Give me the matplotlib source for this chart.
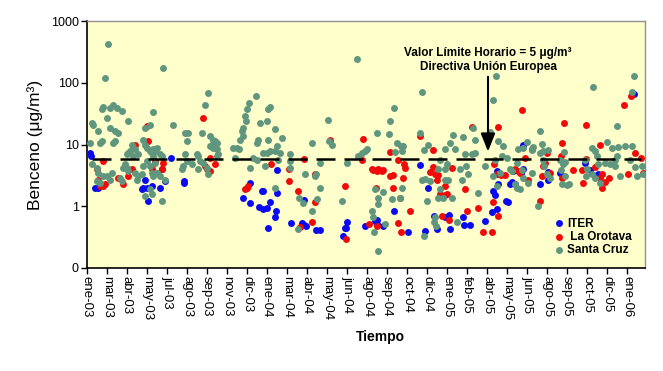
import matplotlib
matplotlib.use('Agg')
import matplotlib.pyplot as plt
from matplotlib.ticker import NullLocator

# month labels on the category axis
months = ['ene-03', 'mar-03', 'abr-03', 'may-03', 'jul-03', 'ago-03', 'sep-03',
          'nov-03', 'dic-03', 'ene-04', 'mar-04', 'abr-04', 'may-04', 'jun-04',
          'ago-04', 'sep-04', 'oct-04', 'dic-04', 'ene-05', 'feb-05', 'abr-05',
          'may-05', 'jun-05', 'ago-05', 'sep-05', 'oct-05', 'dic-05', 'ene-06']

limit = 5.8  # dashed reference line (ug/m3)

# ITER
iter_x = [0.15, 0.2, 0.4, 0.57, 2.73, 2.82, 2.9, 2.98, 3.07, 3.23, 3.65, 3.77, 3.9, 4.2, 4.85, 4.87,
          7.82, 8.15, 8.15, 8.62, 8.73, 8.82, 8.82, 8.98, 9.07, 9.15, 9.4, 9.45, 9.48, 9.48, 10.18,
          10.73, 10.85, 10.85, 10.95, 11.45, 11.65, 12.78, 12.9, 12.95, 13.0, 13.9, 14.4, 14.48,
          14.48, 14.82, 15.37, 16.07, 16.65, 16.9, 17.07, 17.37, 17.48, 17.9, 18.1, 18.15, 18.82,
          18.87, 19.15, 19.9, 20.23, 20.32, 20.4, 20.48, 20.48, 20.53, 20.93, 21.03, 21.15, 21.27,
          21.32, 21.4, 21.7, 21.82, 21.82, 22.65, 23.07, 23.07, 23.65, 24.9, 25.15, 25.57, 27.37]
iter_y = [7.3, 6.5, 2.0, 2.0, 1.9, 2.0, 2.7, 2.0, 1.22, 2.1, 2.0, 4.0, 2.6, 6.1, 2.6, 2.4,
          1.38, 2.4, 1.15, 0.96, 1.77, 1.75, 0.9, 0.92, 0.45, 1.17, 0.66, 0.84, 1.66, 3.9, 0.54,
          0.54, 0.5, 1.27, 0.48, 0.41, 0.41, 0.33, 0.45, 0.45, 0.55, 0.47, 0.57, 0.52,
          0.6, 0.48, 0.84, 0.39, 4.6, 0.4, 2.0, 0.7, 0.43, 0.66, 0.72, 0.43, 0.66,
          0.5, 0.5, 0.57, 0.8, 1.77, 1.5, 0.9, 3.7, 2.3, 1.2, 1.17, 2.3, 2.5,
          3.7, 2.3, 3.5, 10, 4.0, 2.3, 3.6, 2.7, 3.5, 5.0, 3.9, 3.3, 66]

# La Orotava
oro_x = [0.48, 0.57, 0.65, 0.82, 0.82, 0.9, 1.57, 1.82, 2.07, 2.23, 2.4, 2.98, 3.07, 3.23, 3.4,
         3.73, 3.82, 5.82, 5.9, 5.98, 6.15, 6.15, 6.4,
         9.18, 10.12, 10.12, 10.57, 10.85, 11.4, 11.4, 11.23, 10.65, 12.15, 12.9, 12.95, 13.82,
         13.73, 14.23, 14.48, 14.45, 14.48, 14.12, 7.9, 8.07, 7.98,
         15.15, 15.57, 15.87, 15.9, 15.82, 14.57, 14.73, 15.15, 15.32, 15.32, 15.65, 16.15,
         15.53, 15.7, 16.65, 17.32, 17.32, 17.15, 17.4, 17.57, 17.48, 17.9, 17.65, 17.9, 17.98,
         18.27, 17.73, 18.1, 18.9, 18.98, 19.53, 19.23, 20.57, 19.82, 20.23, 20.37, 20.48,
         20.7, 20.9, 21.4, 21.57, 20.53, 20.32, 14.3, 14.8,
         21.73, 23.85, 24.95, 26.83, 27.2, 23.73, 25.65, 27.4, 27.7, 22.98, 22.9, 22.82, 22.73,
         22.65, 21.9, 22.07, 21.65, 23.73, 25.4, 25.65, 25.73, 25.9, 25.77, 27.07, 27.82, 24.73,
         22.25, 24.3, 24.8, 24.95, 23.15, 26.1, 23.7]
oro_y = [4.0, 2.7, 2.1, 5.4, 2.1, 2.3, 2.9, 2.3, 3.1, 4.0, 10, 20, 11.3, 4.0, 5.4,
         4.0, 5.1, 27, 4.5, 4.0, 3.7, 6.1, 4.8,
         4.8, 4.0, 2.6, 1.77, 5.9, 3.3, 1.17, 0.55, 0.46, 12, 2.1, 0.3, 12.2,
         5.7, 4.0, 3.7, 2.0, 0.48, 0.52, 1.9, 2.1, 2.0,
         7.5, 5.7, 4.8, 4.2, 2.9, 4.0, 3.7, 3.1, 3.2, 1.95, 1.36, 0.83,
         0.54, 0.39, 13.5, 8, 4.4, 3.6, 3.3, 3.2, 2.7, 2.1, 1.6, 1.5, 1.55,
         4.2, 0.7, 0.6, 1.9, 0.84, 0.92, 19, 19, 0.39, 0.39, 4.8, 3.3,
         3.2, 3.2, 4.0, 3.7, 0.69, 1.17, 3.8, 3.8,
         36, 22.5, 20.5, 44, 62, 10.5, 10, 7.2, 6.1, 7.4, 5.1, 4.5, 3.1,
         1.22, 6.1, 2.7, 3.5, 2.9, 4.3, 2.9, 2.0, 2.5, 3.3, 3.3, 3.5, 3.8,
         8.6, 3.8, 2.4, 5.9, 3.5, 2.9, 6.6]

# Santa Cruz
sc_x = [0.15, 0.23, 0.32, 0.57, 0.73, 0.82, 1.15, 1.32, 1.48, 1.73, 0.98, 1.15, 1.4, 1.57, 0.65,
        0.73, 1.32, 1.4, 2.07, 3.32, 3.15, 2.9, 4.32, 4.9, 5.07, 4.98, 5.73, 5.9, 6.07, 6.15,
        6.32, 6.4, 6.48, 6.23, 6.15, 6.32, 6.48, 6.57, 6.48, 4.9, 4.98, 4.82, 4.73, 5.23, 5.48,
        5.57, 5.65, 5.82, 5.57, 5.98, 6.07, 0.23, 0.48, 0.57, 0.82, 0.98, 0.5, 0.65, 1.15, 1.23,
        1.65, 1.73, 1.82, 1.9, 1.98, 2.07, 2.23, 2.4, 2.32, 2.15, 2.57, 2.82, 2.9, 2.98, 3.15,
        3.23, 3.32, 3.4, 3.48, 3.65, 3.73, 3.32, 3.4, 2.82, 2.98, 3.15, 3.23, 3.32, 3.48, 3.65,
        3.9, 2.4, 2.48, 2.57, 2.73, 2.07, 1.98, 2.9, 3.23, 3.73, 3.15, 1.05, 0.9, 3.8, 7.32,
        8.43, 8.1, 7.98, 7.9, 7.95, 7.82, 7.73, 7.78, 7.65, 7.48, 7.62, 7.4, 8.15, 8.32, 8.48,
        8.65, 8.98, 9.07, 9.15, 9.4, 9.07, 8.57, 8.48, 9.48, 9.73, 8.82, 8.98, 9.15, 9.4, 9.65,
        9.57, 8.9, 10.15, 10.15, 10.15, 11.23, 10.9, 11.45, 11.4, 11.65, 11.65, 12.07, 12.12,
        12.23, 9.4, 10.62, 10.78, 11.48, 11.23, 10.57, 12.77, 13.0, 13.57, 13.73, 13.9, 13.98,
        14.48, 14.23, 14.32, 14.35, 14.57, 14.57, 14.57, 13.5,
        16.73, 20.32, 15.37, 15.15, 15.1, 16.65, 15.48, 15.82, 15.73, 15.4, 16.87, 17.03, 18.32,
        18.82, 19.32, 18.15, 18.4, 17.9, 19.4, 20.15, 20.57, 20.82, 19.4, 19.23, 18.9, 17.98,
        17.65, 17.57, 17.9, 16.73, 16.9, 17.15, 17.9, 18.07, 17.65, 17.57, 17.82, 18.23, 18.65,
        18.93, 19.07, 18.73, 19.9, 19.57, 20.32, 20.48, 20.65, 21.23, 21.15, 21.4, 21.65, 21.48,
        14.4, 14.9, 15.27, 15.73, 15.65, 16.98, 17.4, 17.37, 17.43, 16.87, 18.48, 20.73, 20.98,
        20.4, 20.45, 15.7, 14.8,
        27.35, 25.28, 27.23, 26.52, 22.65, 21.98, 22.73, 21.57, 21.82, 22.32, 22.82, 23.07,
        23.85, 23.65, 23.9, 23.82, 23.7, 23.9, 23.73, 23.98, 24.1, 24.9, 24.98, 24.93, 25.27,
        25.4, 25.48, 25.98, 26.27, 26.57, 26.9, 27.23, 25.23, 25.4, 25.65, 25.57, 25.9, 26.15,
        26.4, 26.65, 26.4, 26.48, 27.15, 27.4, 27.48, 27.73, 27.82, 21.48, 21.73, 21.82, 22.07,
        22.23, 22.65, 22.82, 22.87, 22.98, 22.57, 23.15, 22.23]
sc_y = [10.6, 22, 21, 16.4, 37, 41, 39, 43, 39, 35, 27, 18.6, 16.4, 15.4, 10.6,
        11.3, 10.6, 11.3, 24, 33, 21, 18.6, 21, 15.4, 15.4, 11.3, 15.4, 44, 68, 13.6,
        12, 11.3, 10.6, 10, 9.4, 8.8, 8.3, 6.9, 6.5, 6.9, 5.4, 4.5, 4.0, 4.8, 6.9,
        6.5, 5.4, 5.1, 4.0, 4.2, 3.3, 4.8, 4.2, 3.5, 3.1, 3.1, 2.6, 2.4, 2.7, 3.5,
        2.9, 2.6, 4.2, 4.8, 6.9, 7.3, 10, 8.3, 6.5, 7.8, 6.9, 12, 10, 8.8, 7.8,
        7.3, 8.3, 7.8, 8.8, 6.9, 6.5, 6.5, 5.1, 4.5, 5.4, 4.5, 3.5, 3.1, 3.5, 3.1,
        2.7, 3.5, 2.7, 3.1, 3.3, 3.7, 4.2, 1.47, 1.56, 1.22, 1.9, 425, 120, 174, 8.8,
        60, 47, 37, 29, 24, 18.6, 16.4, 13.6, 12, 8.8, 8.3, 6.1, 4.2, 6.1, 5.7,
        22, 24, 37, 41, 17.5, 12, 12, 10.6, 9.4, 12.8, 7.3, 7.3, 7.8, 7.8, 7.3,
        5.7, 4.5, 6.9, 5.4, 4.2, 10.6, 3.3, 3.3, 3.1, 5.1, 2.0, 25, 11.3,
        10, 2.0, 1.38, 1.15, 1.3, 0.84, 0.43, 1.22, 5.1, 6.5, 7.3, 7.8, 8.3,
        15.4, 0.84, 0.66, 0.38, 0.19, 1.38, 1.1, 245,
        72, 53, 39, 24, 15, 15.4, 10.6, 9.4, 7.8, 7.5, 8, 10, 14,
        13, 18.6, 10.6, 8.3, 8.3, 12, 16, 11.3, 9.4, 7.3, 6.9, 6.9, 4.8,
        5.7, 4.0, 4.0, 2.7, 2.8, 2.6, 2.7, 2.7, 1.9, 1.38, 1.38, 1.38, 4.0,
        4.5, 3.3, 2.7, 4.5, 1.66, 3.1, 2.1, 3.5, 3.7, 4.0, 2.3, 1.9, 2.0,
        1.9, 0.52, 1.3, 2.0, 1.38, 1.22, 0.66, 0.55, 0.48, 0.33, 0.56, 6.5, 6.1,
        5.7, 130, 9.6, 1.68,
        130, 85, 72, 20, 16.4, 11, 10.3, 8.3, 8.8, 9.0, 7.8, 8,
        7.6, 5.7, 5.3, 4.8, 3.8, 3.1, 2.3, 2.2, 2.3, 5.7, 4.0, 3.1, 8.8,
        7.8, 6.5, 11, 8.8, 9, 9.5, 9.5, 3.3, 2.9, 2.4, 4.8, 5.1, 4.8,
        4.5, 3.1, 5.7, 6.5, 5.7, 4.4, 3.1, 4.5, 3.3, 5.1, 3.8, 2.9, 2.4,
        3.5, 7.4, 5.7, 4.5, 3.3, 1.0, 2.9, 8.0]

narrow = ['Liberation Sans Narrow', 'Liberation Sans']
plt.rcParams['font.family'] = ['Liberation Sans', 'DejaVu Sans']

fig = plt.figure(figsize=(6.63, 3.71), dpi=100)
ax = fig.add_axes([87 / 663, 1 - 268 / 371, 558 / 663, 247 / 371])
ax.set_facecolor('#FFFFCC')

ax.scatter(iter_x, iter_y, s=25, color='#0A0AF0', linewidths=0, zorder=3, label='ITER')
ax.scatter(oro_x, oro_y, s=25, color='#F00A0A', linewidths=0, zorder=4, label=' La Orotava')
ax.scatter(sc_x, sc_y, s=25, color='#5F967D', linewidths=0, zorder=5, label='Santa Cruz')

# limit line
ax.plot([0.25, 27.7], [limit, limit], color='black', lw=1.8, dashes=(7.6, 3.6), zorder=6)

ax.set_yscale('log')
ax.set_ylim(0.1, 1000)
ax.set_yticks([0.1, 1, 10, 100, 1000])
ax.set_yticklabels(['0', '1', '10', '100', '1000'], fontsize=9)
ax.yaxis.set_minor_locator(NullLocator())

ax.set_xlim(0, 27.9)
ax.set_xticks(range(len(months)))
ax.set_xticklabels(months, rotation=-90, fontsize=9.5, ha='center', va='top')
ax.tick_params(direction='out', length=4, width=1, pad=2)

for side in ['left', 'bottom']:
    ax.spines[side].set_color('black')
    ax.spines[side].set_linewidth(1.2)
for side in ['top', 'right']:
    ax.spines[side].set_color('#909090')
    ax.spines[side].set_linewidth(1)

ax.set_ylabel('Benceno (μg/m³)', fontsize=12.5)
ax.yaxis.set_label_coords(-0.078, 0.5)
ax.set_xlabel('Tiempo', fontsize=10, fontweight='bold', family=narrow)
ax.xaxis.set_label_coords(0.525, -0.25)

ax.text(0.719, 0.842, 'Valor Límite Horario = 5 μg/m³\nDirectiva Unión Europea',
        transform=ax.transAxes, ha='center', va='center', fontsize=8.5,
        fontweight='bold', family=narrow, linespacing=1.2, zorder=7)
ax.annotate('', xy=(20.05, 7.7), xytext=(20.05, 125),
            arrowprops=dict(arrowstyle='-|>,head_length=0.55,head_width=0.22',
                            color='black', lw=1.5, mutation_scale=20,
                            shrinkA=0, shrinkB=0), zorder=7)

leg = ax.legend(loc='lower right', bbox_to_anchor=(0.985, 0.03), frameon=False,
                scatterpoints=1, handlelength=0.8, handletextpad=0.3,
                labelspacing=0.1, borderaxespad=0,
                prop={'family': narrow, 'weight': 'bold', 'size': 8.5})

fig.savefig('out.png', dpi=100)
